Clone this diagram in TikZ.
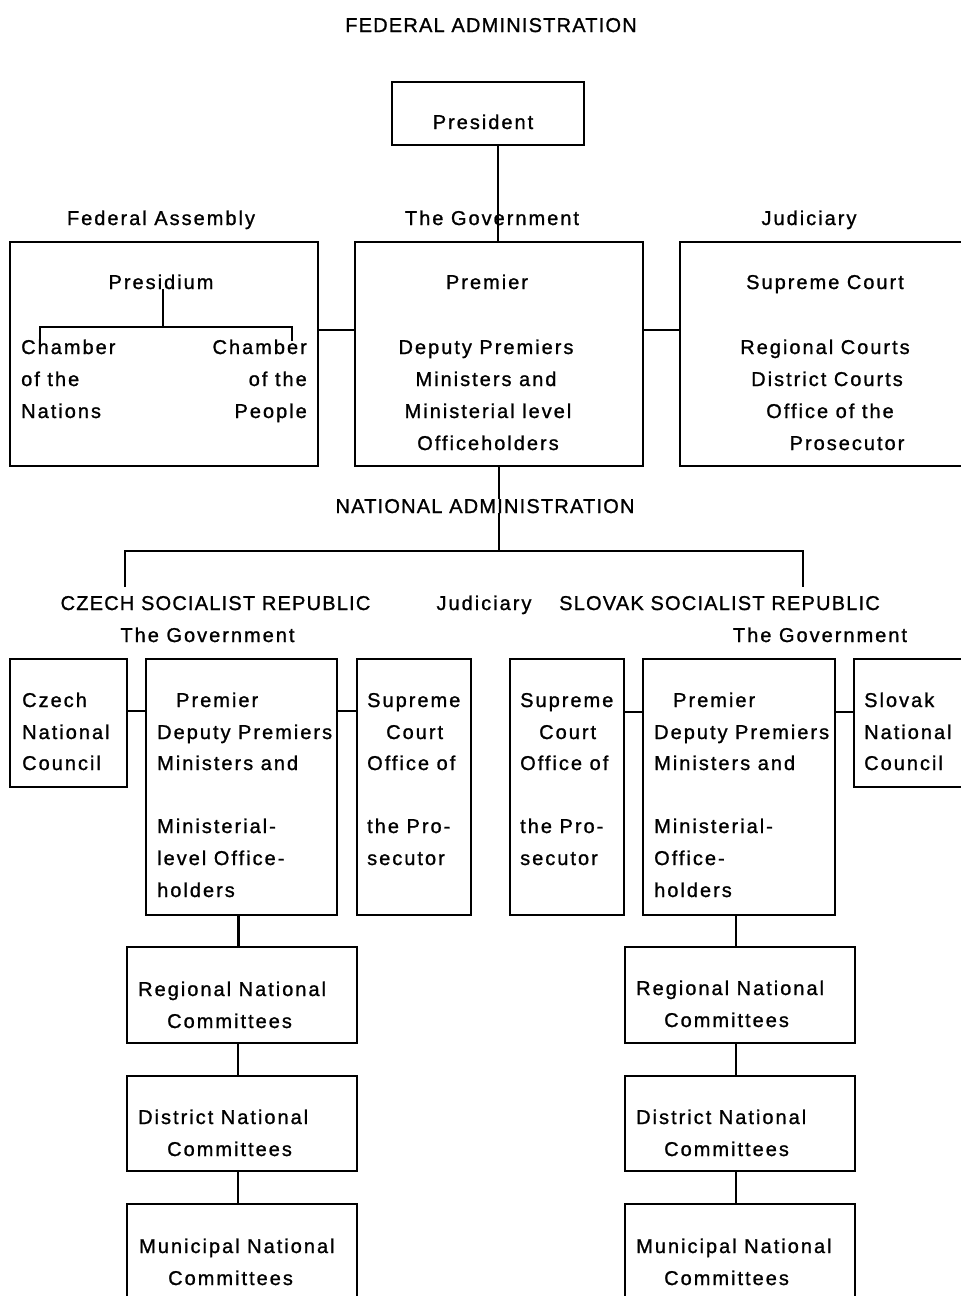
\documentclass[tikz,border=0pt]{standalone}
\usepackage{fontspec}
\setmainfont{Liberation Sans}[LetterSpace=10,FakeBold=1.1]
\newfontfamily\capsfont{Liberation Sans}[LetterSpace=6,FakeBold=1.1]
\begin{document}
\begin{tikzpicture}[x=1pt,y=-1pt,
  font=\fontsize{20}{24}\selectfont,
  box/.style={draw, line width=2.4pt, inner sep=0pt, outer sep=0pt},
  conn/.style={line width=2.4pt},
  lbl/.style={inner sep=0pt, anchor=base},
  capslbl/.style={inner sep=0pt, anchor=base, font=\capsfont\fontsize{20}{24}\selectfont},
  lw/.style={inner sep=0pt, anchor=base west},
  le/.style={inner sep=0pt, anchor=base east}]
\useasboundingbox[fill=white] (0,0) rectangle (961,1296);

% ---------------- Federal administration ----------------
\node[capslbl] (fedtitle) at (491,32) {FEDERAL ADMINISTRATION};
\node[box, minimum width=192, minimum height=63] (pres) at (488,113.5) {};
\node[lbl] (prestxt) at (483,129) {President};

\node[lbl] (falbl) at (161,225) {Federal Assembly};
\node[lbl] (govlbl) at (492,225) {The Government};
\node[lbl] (judlbl) at (809,225) {Judiciary};

\node[box, minimum width=308, minimum height=224] (fa) at (164,354) {};
\node[box, minimum width=288, minimum height=224] (gov) at (499,354) {};
\node[box, minimum width=295, minimum height=224] (jud) at (827.5,354) {};

% Federal Assembly contents
\node[lbl] (presidium) at (161,289) {Presidium};
\coordinate (pj) at (163,327);
\coordinate (cnL) at (40,341);
\coordinate (cnR) at (292,341);
\node[lw] (chl1) at (21,354) {Chamber};
\node[lw] (chl2) at (21,386) {of the};
\node[lw] (chl3) at (21,418) {Nations};
\node[le] (chr1) at (307,354) {Chamber};
\node[le] (chr2) at (307,386) {of the};
\node[le] (chr3) at (307,418) {People};
\draw[conn] (presidium.south -| pj) -- (pj);
\draw[conn] (cnL) |- (pj) -| (cnR);

% Government contents
\node[lbl] (gv1) at (487,289) {Premier};
\node[lbl] (gv2) at (486,354) {Deputy Premiers};
\node[lbl] (gv3) at (486,386) {Ministers and};
\node[lbl] (gv4) at (488,418) {Ministerial level};
\node[lbl] (gv5) at (488,450) {Officeholders};

% Judiciary contents
\node[lbl] (jd1) at (825,289) {Supreme Court};
\node[lbl] (jd2) at (825,354) {Regional Courts};
\node[lbl] (jd3) at (827,386) {District Courts};
\node[lbl] (jd4) at (830,418) {Office of the};
\node[lbl] (jd5) at (847,450) {Prosecutor};

% connectors (federal)
\draw[conn] ([xshift=10pt]pres.south) -- ([xshift=10pt]pres.south |- gov.north);
\draw[conn] ([yshift=24pt]fa.east) -- ([yshift=24pt]fa.east -| gov.west);
\draw[conn] ([yshift=24pt]gov.east) -- ([yshift=24pt]gov.east -| jud.west);

% ---------------- National administration ----------------
\node[capslbl] (nattitle) at (485,513) {NATIONAL ADMINISTRATION};
\coordinate (nsplit) at (499,551);
\coordinate (czL) at (125,587);
\coordinate (skR) at (803,587);
\draw[conn] (gov.south) -- (gov.south |- nattitle.north);
\draw[conn] (nattitle.south -| nsplit) -- (nsplit);
\draw[conn] (czL) |- (nsplit) -| (skR);

\node[capslbl] (czlbl) at (215.5,610) {CZECH SOCIALIST REPUBLIC};
\node[lbl] (njudlbl) at (484,610) {Judiciary};
\node[capslbl] (sklbl) at (719.5,610) {SLOVAK SOCIALIST REPUBLIC};
\node[lbl] (czgovlbl) at (207.5,642) {The Government};
\node[lbl] (skgovlbl) at (820,642) {The Government};

% Czech boxes
\node[box, minimum width=117, minimum height=128] (cnc) at (68.5,723) {};
\node[box, minimum width=191, minimum height=256] (cgov) at (241.5,787) {};
\node[box, minimum width=114, minimum height=256] (ccourt) at (414,787) {};

\node[lw] (cnc1) at (22,707) {Czech};
\node[lw] (cnc2) at (22,739) {National};
\node[lw] (cnc3) at (22,770) {Council};

\node[lw] (cg1) at (176,707) {Premier};
\node[lw] (cg2) at (157,739) {Deputy Premiers};
\node[lw] (cg3) at (157,770) {Ministers and};
\node[lw] (cg4) at (157,833) {Ministerial-};
\node[lw] (cg5) at (157,865) {level Office-};
\node[lw] (cg6) at (157,897) {holders};

\node[lw] (cc1) at (367,707) {Supreme};
\node[lw] (cc2) at (386,739) {Court};
\node[lw] (cc3) at (367,770) {Office of};
\node[lw] (cc4) at (367,833) {the Pro-};
\node[lw] (cc5) at (367,865) {secutor};

\draw[conn] ([yshift=12pt]cnc.east) -- ([yshift=12pt]cnc.east -| cgov.west);
\draw[conn] ([yshift=12pt]cnc.east -| cgov.east) -- ([yshift=12pt]cnc.east -| ccourt.west);

% Slovak boxes
\node[box, minimum width=114, minimum height=256] (scourt) at (567,787) {};
\node[box, minimum width=192, minimum height=256] (sgov) at (739,787) {};
\node[box, minimum width=121, minimum height=128] (snc) at (914.5,723) {};

\node[lw] (sc1) at (520,707) {Supreme};
\node[lw] (sc2) at (539,739) {Court};
\node[lw] (sc3) at (520,770) {Office of};
\node[lw] (sc4) at (520,833) {the Pro-};
\node[lw] (sc5) at (520,865) {secutor};

\node[lw] (sg1) at (673,707) {Premier};
\node[lw] (sg2) at (654,739) {Deputy Premiers};
\node[lw] (sg3) at (654,770) {Ministers and};
\node[lw] (sg4) at (654,833) {Ministerial-};
\node[lw] (sg5) at (654,865) {Office-};
\node[lw] (sg6) at (654,897) {holders};

\node[lw] (sn1) at (864,707) {Slovak};
\node[lw] (sn2) at (864,739) {National};
\node[lw] (sn3) at (864,770) {Council};

\draw[conn] ([yshift=11pt]snc.west -| scourt.east) -- ([yshift=11pt]snc.west -| sgov.west);
\draw[conn] ([yshift=11pt]snc.west -| sgov.east) -- ([yshift=11pt]snc.west);

% Committees (Czech)
\node[box, minimum width=230, minimum height=96] (creg) at (242,995) {};
\node[box, minimum width=230, minimum height=95] (cdis) at (242,1123.5) {};
\node[box, minimum width=230, minimum height=106] (cmun) at (242,1257) {};
\node[lw] (cr1) at (138,996) {Regional National};
\node[lw] (cr2) at (167,1028) {Committees};
\node[lw] (cd1) at (138,1124) {District National};
\node[lw] (cd2) at (167,1156) {Committees};
\node[lw] (cm1) at (139,1253) {Municipal National};
\node[lw] (cm2) at (168,1285) {Committees};
\draw[conn] ([xshift=-3pt]cgov.south) -- ([xshift=-3pt]cgov.south |- creg.north);
\draw[conn] ([xshift=-4pt]creg.south) -- ([xshift=-4pt]cdis.north);
\draw[conn] ([xshift=-4pt]cdis.south) -- ([xshift=-4pt]cmun.north);

% Committees (Slovak)
\node[box, minimum width=230, minimum height=96] (sreg) at (740,995) {};
\node[box, minimum width=230, minimum height=95] (sdis) at (740,1123.5) {};
\node[box, minimum width=230, minimum height=106] (smun) at (740,1257) {};
\node[lw] (sr1) at (636,995) {Regional National};
\node[lw] (sr2) at (664,1027) {Committees};
\node[lw] (sd1) at (636,1124) {District National};
\node[lw] (sd2) at (664,1156) {Committees};
\node[lw] (sm1) at (636,1253) {Municipal National};
\node[lw] (sm2) at (664,1285) {Committees};
\draw[conn] ([xshift=-3pt]sgov.south) -- ([xshift=-3pt]sgov.south |- sreg.north);
\draw[conn] ([xshift=-4pt]sreg.south) -- ([xshift=-4pt]sdis.north);
\draw[conn] ([xshift=-4pt]sdis.south) -- ([xshift=-4pt]smun.north);
\end{tikzpicture}
\end{document}
